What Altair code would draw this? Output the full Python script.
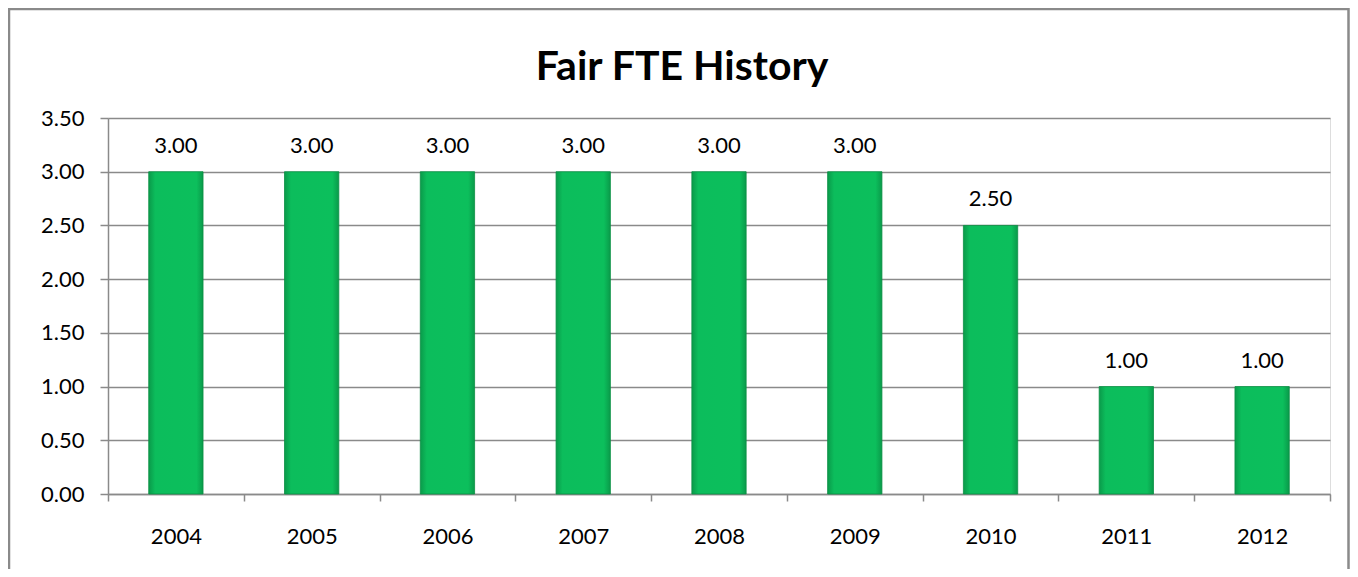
import altair as alt
import pandas as pd

years = ["2004", "2005", "2006", "2007", "2008", "2009", "2010", "2011", "2012"]
fte = [3.00, 3.00, 3.00, 3.00, 3.00, 3.00, 2.50, 1.00, 1.00]
y_ticks = [0.0, 0.5, 1.0, 1.5, 2.0, 2.5, 3.0, 3.5]
title_text = "Fair FTE History"

df = pd.DataFrame({"year": years, "fte": fte})
FONT = "Lato"
GRAY = "#8a8a8a"

bar_fill = alt.Gradient(
    gradient="linear",
    x1=0, x2=1, y1=0, y2=0,
    stops=[
        alt.GradientStop(color="#0a9a4a", offset=0),
        alt.GradientStop(color="#0cbd5c", offset=0.12),
        alt.GradientStop(color="#0cbf5c", offset=0.88),
        alt.GradientStop(color="#0a9a4a", offset=1),
    ],
)

base = alt.Chart(df)

x_enc = alt.X(
    "year:N",
    title=None,
    sort=years,
    scale=alt.Scale(paddingInner=0, paddingOuter=0),
    axis=alt.Axis(
        labelAngle=0, labelFont=FONT, labelFontSize=22, labelColor="#000000",
        labelPadding=25, tickBand="extent", tickSize=7, tickColor=GRAY,
        tickWidth=1.5, domainColor=GRAY, domainWidth=1.5, grid=False,
    ),
)
y_enc = alt.Y(
    "fte:Q",
    title=None,
    scale=alt.Scale(domain=[0, 3.5], nice=False),
    axis=alt.Axis(
        values=y_ticks, format=".2f", labelFont=FONT, labelFontSize=22,
        labelColor="#000000", labelPadding=16, tickSize=8, tickColor=GRAY,
        tickWidth=1.5, domainColor=GRAY, domainWidth=1.5, grid=True,
        gridColor=GRAY, gridWidth=1.5,
    ),
)

bars = base.mark_bar(
    width=alt.RelativeBandSize(0.4), fill=bar_fill, stroke="#0a8f44", strokeWidth=0.8
).encode(x=x_enc, y=y_enc)

labels = base.mark_text(
    font=FONT, fontSize=22, color="#000000", baseline="alphabetic", dy=-19
).encode(x=alt.X("year:N", sort=years), y="fte:Q", text=alt.Text("fte:Q", format=".2f"))

title_df = pd.DataFrame({"t": [title_text]})
title = alt.Chart(title_df).mark_text(
    font=FONT, fontSize=41, fontWeight="bold", color="#000000", baseline="alphabetic"
).encode(text="t:N", x=alt.value(574), y=alt.value(-38))

border = alt.Chart(pd.DataFrame({"b": [1]})).mark_rect(
    filled=False, stroke=GRAY, strokeWidth=2.5
).encode(x=alt.value(-99), x2=alt.value(1240.5), y=alt.value(-109), y2=alt.value(700))

chart = alt.layer(bars, labels, title, border).properties(
    width=1222, height=376,
    padding={"left": 100, "top": 110, "right": 20, "bottom": 75},
    autosize=alt.AutoSizeParams(type="none"),
).configure_view(stroke=None).configure(background="white")

chart.save("out.html", embed_options={"renderer": "svg", "actions": False})
